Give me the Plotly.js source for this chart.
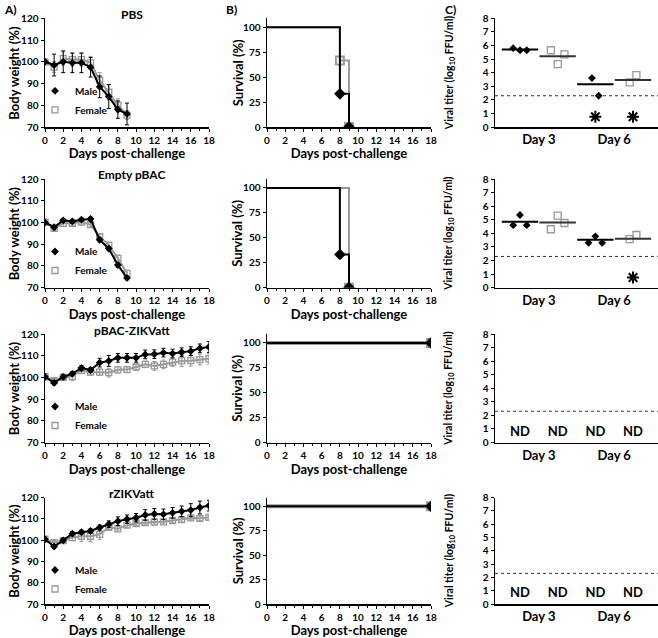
<!DOCTYPE html>
<html>
<head>
<meta charset="utf-8">
<script src="https://cdn.plot.ly/plotly-3.0.1.min.js"></script>
<style>
  html, body { margin: 0; padding: 0; background: #fff; }
  #chart { width: 658px; height: 638px; }
</style>
</head>
<body>
<div id="chart"></div>
<script>
// ---- data ----
const groups = ["PBS", "Empty pBAC", "pBAC-ZIKVatt", "rZIKVatt"];
const days = [0, 1, 2, 3, 4, 5, 6, 7, 8, 9, 10, 11, 12, 13, 14, 15, 16, 17, 18];

// body weight (%), mean and SD
const pbsMale = [100, 98.5, 100, 99.5, 99.5, 97.5, 88.5, 84, 78, 76];
const pbsMaleErr = [0.5, 5, 5, 4.5, 4.5, 4.5, 5, 5.5, 4, 5];
const pbsFemale = [100, 97.5, 101.5, 101, 101, 99.5, 91.5, 86, 80, 75.5];
const pbsFemaleErr = [1, 2.5, 3, 3, 3, 3, 3.5, 3.5, 3, 2];

const emptyMale = [100, 97.8, 101, 100.5, 101.3, 101.6, 92, 88, 80.4, 74.5];
const emptyMaleErr = [0.5, 0.8, 0.8, 0.8, 0.8, 0.8, 1, 1, 1, 0.8];
const emptyFemale = [100.2, 97.3, 99.6, 99.6, 100.2, 99, 93.5, 89.6, 83.5, 76.6];
const emptyFemaleErr = [0.8, 1, 1.5, 1, 1, 1, 1.2, 1.2, 1.5, 1.5];

const pbacMale = [100.3, 97.5, 100.2, 101.7, 104.3, 103.4, 106.8, 107.6, 109, 109, 109, 110.6, 110.7, 111.4, 111, 111.6, 112.1, 113.4, 114];
const pbacMaleErr = [0.5, 1, 1, 1, 1.2, 1.2, 2, 2.5, 2, 2, 2, 2, 2, 2, 2, 2, 2, 2, 2.5];
const pbacFemale = [100.3, 98.5, 100, 100.5, 103.2, 102.5, 102.4, 102.2, 103.5, 103.6, 104.8, 106, 105.3, 106, 107, 107.6, 107.7, 108.2, 108.6];
const pbacFemaleErr = [0.5, 1, 1.5, 2, 1.5, 1.2, 1.5, 2, 1.5, 1.2, 1.5, 1.5, 2, 2, 2, 2.5, 2.5, 2.5, 2.5];

const rzMale = [100.4, 97, 99.9, 103, 103.7, 104.3, 105.9, 107.5, 108.9, 109.8, 110.5, 111.8, 112.3, 112.1, 112.8, 113.5, 114.1, 115.3, 116.2];
const rzMaleErr = [0.5, 0.8, 1, 1, 1, 1, 1.2, 1.5, 2, 2, 2, 2.5, 2.5, 2.5, 2.5, 2.5, 3, 3, 2.5];
const rzFemale = [100.4, 98.8, 99.8, 101.2, 101.8, 101.8, 102.7, 106, 105.3, 107, 107.8, 108.2, 108.5, 108.6, 109.2, 109.6, 110.4, 110.2, 110.7];
const rzFemaleErr = [0.5, 1, 1, 1.5, 2.5, 2.5, 2.5, 1, 1, 1, 1, 1, 1, 1, 1, 1, 1, 1, 1];

// survival (%), step points
const pbsSurvMaleX = [0, 8, 9], pbsSurvMaleY = [100, 33.3, 0];
const pbsSurvFemaleX = [0, 8, 9], pbsSurvFemaleY = [100, 66.7, 0];
const emptySurvMaleX = [0, 8, 9], emptySurvMaleY = [100, 33.3, 0];
const emptySurvFemaleX = [0, 9], emptySurvFemaleY = [100, 0];
const pbacSurvMaleX = [0, 18], pbacSurvMaleY = [100, 100];
const pbacSurvFemaleX = [0, 18], pbacSurvFemaleY = [100, 100];
const rzSurvMaleX = [0, 18], rzSurvMaleY = [100, 100];
const rzSurvFemaleX = [0, 18], rzSurvFemaleY = [100, 100];

// viral titer (log10 FFU/ml): male D3, female D3, male D6, female D6
const titerCats = ["Day 3", "Day 6"];
const pbsTiter = [[5.8, 5.65, 5.65], [5.65, 4.63, 5.35], [3.6, 2.3], [3.28, 3.82]];
const pbsTiterMean = [5.7, 5.2, 3.15, 3.45];
const pbsUndetected = [0, 0, 1, 1];
const emptyTiter = [[4.6, 5.35, 4.6], [4.3, 5.3, 4.76], [3.3, 3.78, 3.3], [3.58, 3.88]];
const emptyTiterMean = [4.85, 4.8, 3.53, 3.6];
const emptyUndetected = [0, 0, 0, 1];
const LOD = 2.3;

// ---- layout helpers ----
const W = 658, H = 638;
const colX = [[45, 209], [267, 431], [495, 658]];
const rowY = [[18.3, 127], [179, 287.7], [334, 442.5], [497.5, 604]];
const yTitles = ["Body weight (%)", "Survival (%)", "Viral titer (log<sub>10</sub> FFU/ml)"];
const yTitleShift = [-31, -29.5, -45.5];
const yTitleSize = [13, 13, 10.5];
const GRAY = "#999";
const ND_Y = 0.75;

const ax = k => (k === 1 ? "" : String(k));

const layout = {
    width: W, height: H,
    margin: { l: 0, r: 0, t: 0, b: 0 },
    paper_bgcolor: "#fff",
    plot_bgcolor: "rgba(0,0,0,0)",
    font: { family: "Lato, 'Open Sans', sans-serif", size: 10, color: "#000", weight: "bold" },
    showlegend: true,
    annotations: [],
    shapes: []
};

function axisBase(domain, anchor) {
    return {
        domain: domain, anchor: anchor,
        showline: true, linecolor: "#000", linewidth: 1.5,
        ticks: "outside", ticklen: 3, tickwidth: 1, tickcolor: "#000",
        showgrid: false, zeroline: false, fixedrange: true,
        tickfont: { size: 10 }, automargin: false
    };
}

const traces = [];

for (let r = 0; r < 4; r++) {
    for (let c = 0; c < 3; c++) {
        const k = r * 3 + c + 1;
        const xd = [colX[c][0] / W, colX[c][1] / W];
        const yd = [1 - rowY[r][1] / H, 1 - rowY[r][0] / H];
        const xa = axisBase(xd, "y" + ax(k));
        const ya = axisBase(yd, "x" + ax(k));
        if (c < 2) {
            xa.range = [0, 18];
            xa.dtick = 2;
            xa.minor = { dtick: 1, ticklen: 2, ticks: "outside", tickcolor: "#000" };
            xa.title = { text: "Days post-challenge", font: { size: 13 }, standoff: 0 };
        }
        if (c === 0) {
            ya.range = [70, 120];
            ya.dtick = 10;
        } else if (c === 1) {
            ya.range = [0, 109];
            ya.tickvals = [0, 25, 50, 75, 100];
        } else {
            xa.range = [0.337, 4.663];
            xa.tickvals = [1.5, 3.5];
            xa.ticktext = titerCats;
            xa.ticks = "";
            xa.tickfont = { size: 13 };
            ya.range = [0, 8];
            ya.dtick = 1;
            layout.shapes.push({
                type: "line", xref: "x" + ax(k) + " domain", x0: 0, x1: 1,
                yref: "y" + ax(k), y0: LOD, y1: LOD,
                line: { color: "#333", width: 1, dash: "dot" }
            });
        }
        // y axis title, placed beside the axis
        layout.annotations.push({
            text: yTitles[c], showarrow: false, textangle: -90,
            xref: "x" + ax(k) + " domain", yref: "y" + ax(k) + " domain",
            x: 0, y: 0.5, xanchor: "center", yanchor: "middle",
            xshift: yTitleShift[c], font: { size: yTitleSize[c] }
        });
        layout["xaxis" + ax(k)] = xa;
        layout["yaxis" + ax(k)] = ya;
    }
    // subplot title
    const k0 = r * 3 + 1;
    layout.annotations.push({
        text: groups[r], showarrow: false,
        xref: "x" + ax(k0) + " domain", yref: "y" + ax(k0) + " domain",
        x: 0.53, y: 1, yanchor: "middle", yshift: 4,
        font: { size: 12 }
    });
}

// panel letters
[["A)", 2 / W], ["B)", 224 / W], ["C)", 443 / W]].forEach(([t, x]) => {
    layout.annotations.push({
        text: t, showarrow: false, xref: "paper", yref: "paper",
        x: x, y: 1, xanchor: "left", yanchor: "top", font: { size: 12 }
    });
});

// ---- body weight panels ----
function weightTraces(r, male, maleErr, female, femaleErr) {
    const k = r * 3 + 1;
    const xa = "x" + ax(k), ya = "y" + ax(k);
    const lg = "legend" + (r === 0 ? "" : String(r + 1));
    const dM = days.slice(0, male.length);
    const dF = days.slice(0, female.length);
    traces.push({
        x: dF, y: female, xaxis: xa, yaxis: ya, mode: "lines", showlegend: false,
        line: { color: GRAY, width: 2 },
        error_y: { type: "data", array: femaleErr, color: GRAY, thickness: 1, width: 2 }
    });
    traces.push({
        x: dF, y: female, xaxis: xa, yaxis: ya, mode: "markers", name: "Female", legend: lg,
        marker: { symbol: "square-open", size: 6, color: GRAY, line: { width: 1.3, color: GRAY } }
    });
    traces.push({
        x: dM, y: male, xaxis: xa, yaxis: ya, mode: "lines", showlegend: false,
        line: { color: "#000", width: 2 },
        error_y: { type: "data", array: maleErr, color: "#000", thickness: 1, width: 2 }
    });
    traces.push({
        x: dM, y: male, xaxis: xa, yaxis: ya, mode: "markers", name: "Male", legend: lg,
        marker: { symbol: "diamond", size: 6, color: "#000" }
    });
    layout[lg] = {
        x: 35 / W, y: 1 - (rowY[r][0] + 58) / H, xanchor: "left", yanchor: "top",
        bgcolor: "rgba(0,0,0,0)", font: { size: 10 }, traceorder: "reversed",
        tracegroupgap: 0
    };
}

weightTraces(0, pbsMale, pbsMaleErr, pbsFemale, pbsFemaleErr);
weightTraces(1, emptyMale, emptyMaleErr, emptyFemale, emptyFemaleErr);
weightTraces(2, pbacMale, pbacMaleErr, pbacFemale, pbacFemaleErr);
weightTraces(3, rzMale, rzMaleErr, rzFemale, rzFemaleErr);

// ---- survival panels ----
function survTraces(r, mX, mY, fX, fY) {
    const k = r * 3 + 2;
    const xa = "x" + ax(k), ya = "y" + ax(k);
    const flat = fY[fY.length - 1] === 100;
    traces.push({
        x: fX, y: fY, xaxis: xa, yaxis: ya, mode: "lines", showlegend: false,
        line: { color: GRAY, width: flat ? 4 : 2, shape: "hv" }
    });
    traces.push({
        x: fX.slice(1), y: fY.slice(1), xaxis: xa, yaxis: ya, mode: "markers", showlegend: false,
        marker: { symbol: "square-open", size: 8, color: GRAY, line: { width: 2, color: GRAY } }
    });
    traces.push({
        x: mX, y: mY, xaxis: xa, yaxis: ya, mode: "lines", showlegend: false,
        line: { color: "#000", width: 2, shape: "hv" }
    });
    traces.push({
        x: mX.slice(1), y: mY.slice(1), xaxis: xa, yaxis: ya, mode: "markers", showlegend: false,
        marker: { symbol: "diamond", size: 9, color: "#000" }
    });
}

survTraces(0, pbsSurvMaleX, pbsSurvMaleY, pbsSurvFemaleX, pbsSurvFemaleY);
survTraces(1, emptySurvMaleX, emptySurvMaleY, emptySurvFemaleX, emptySurvFemaleY);
survTraces(2, pbacSurvMaleX, pbacSurvMaleY, pbacSurvFemaleX, pbacSurvFemaleY);
survTraces(3, rzSurvMaleX, rzSurvMaleY, rzSurvFemaleX, rzSurvFemaleY);

// ---- viral titer panels ----
function titerTraces(r, values, means, undetected) {
    const k = r * 3 + 3;
    const xa = "x" + ax(k), ya = "y" + ax(k);
    values.forEach((vals, g) => {
        const isMale = g % 2 === 0;
        const pos = g + 1;
        const xs = vals.map((v, i) => pos + (i - (vals.length - 1) / 2) * 0.18);
        traces.push({
            x: xs, y: vals, xaxis: xa, yaxis: ya, mode: "markers", showlegend: false,
            marker: isMale
                ? { symbol: "diamond", size: 6, color: "#000" }
                : { symbol: "square-open", size: 7, color: GRAY, line: { width: 1.3, color: GRAY } }
        });
        const meanColor = isMale ? "#000" : "#333";
        traces.push({
            x: [pos], y: [means[g]], xaxis: xa, yaxis: ya, mode: "markers", showlegend: false,
            marker: { symbol: "line-ew-open", size: 26, color: meanColor, line: { width: 2, color: meanColor } }
        });
        if (undetected[g] > 0) {
            traces.push({
                x: [pos], y: [ND_Y], xaxis: xa, yaxis: ya, mode: "markers", showlegend: false,
                marker: { symbol: "asterisk-open", size: 10, color: "#000", line: { width: 2, color: "#000" } }
            });
        }
    });
}

function ndTraces(r) {
    const k = r * 3 + 3;
    traces.push({
        x: [1, 2, 3, 4], y: [ND_Y, ND_Y, ND_Y, ND_Y], xaxis: "x" + ax(k), yaxis: "y" + ax(k),
        mode: "text", text: ["ND", "ND", "ND", "ND"], showlegend: false,
        textfont: { size: 13, color: "#000" }
    });
}

titerTraces(0, pbsTiter, pbsTiterMean, pbsUndetected);
titerTraces(1, emptyTiter, emptyTiterMean, emptyUndetected);
ndTraces(2);
ndTraces(3);

Plotly.newPlot("chart", traces, layout, { staticPlot: true, displayModeBar: false });
</script>
</body>
</html>
